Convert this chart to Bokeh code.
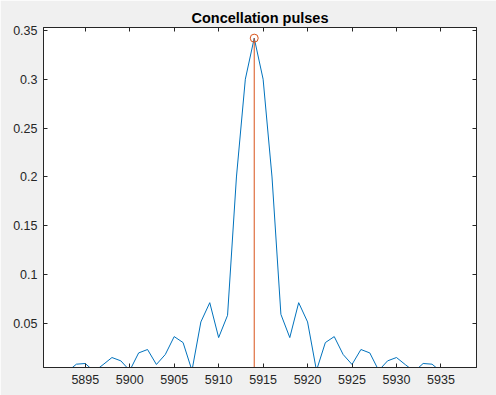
from bokeh.plotting import figure
from bokeh.models import Range1d, LinearAxis, FixedTicker, NumeralTickFormatter
from bokeh.embed import file_html
from bokeh.resources import INLINE

# Data
freq = [5890, 5891, 5892, 5893, 5894, 5895, 5896, 5897, 5898, 5899,
        5900, 5901, 5902, 5903, 5904, 5905, 5906, 5907, 5908, 5909,
        5910, 5911, 5912, 5913, 5914, 5915, 5916, 5917, 5918, 5919,
        5920, 5921, 5922, 5923, 5924, 5925, 5926, 5927, 5928, 5929,
        5930, 5931, 5932, 5933, 5934, 5935, 5936, 5937, 5938]
mag = [0.003, 0.004, 0.003, 0.001, 0.0085, 0.0092, 0.001, 0.008, 0.0153, 0.0119,
       0.002, 0.020, 0.0235, 0.0082, 0.0184, 0.0367, 0.0306, 0.002, 0.0517, 0.0714,
       0.0357, 0.0585, 0.200, 0.300, 0.342, 0.300, 0.200, 0.0595, 0.0357, 0.0714,
       0.0517, 0.002, 0.0306, 0.0367, 0.0184, 0.0082, 0.0235, 0.020, 0.002, 0.0119,
       0.0153, 0.008, 0.001, 0.0092, 0.0085, 0.001, 0.003, 0.004, 0.003]
peak_freq = [5914]
peak_mag = [0.342]

x_ticks = [5895, 5900, 5905, 5910, 5915, 5920, 5925, 5930, 5935]
y_ticks = [0.05, 0.1, 0.15, 0.2, 0.25, 0.3, 0.35]

BLUE = "#0072BD"
ORANGE = "#D95319"
DARK = "#262626"

p = figure(width=496, height=395, output_backend="svg", toolbar_location=None,
           x_range=Range1d(5890.3, 5939.0), y_range=Range1d(0.0051, 0.3529),
           title="Concellation pulses",
           min_border_left=43, min_border_right=20, min_border_top=27, min_border_bottom=28)

p.border_fill_color = "#F0F0F0"
p.background_fill_color = "white"
p.outline_line_color = DARK
p.outline_line_width = 1
p.xgrid.visible = False
p.ygrid.visible = False

p.title.text_font = "Liberation Sans"
p.title.text_font_size = "14.5px"
p.title.text_font_style = "bold"
p.title.text_color = "black"
p.title.align = "center"
p.title.standoff = 3

def style_axis(ax, ticks, fmt, show_labels=True):
    ax.ticker = FixedTicker(ticks=ticks)
    ax.formatter = NumeralTickFormatter(format=fmt)
    ax.axis_line_color = DARK
    ax.major_tick_line_color = DARK
    ax.major_tick_in = 4
    ax.major_tick_out = 0
    ax.minor_tick_line_color = None
    ax.major_label_text_font = "Liberation Sans"
    ax.major_label_text_font_size = "12.5px"
    ax.major_label_text_color = DARK
    if not show_labels:
        ax.major_label_overrides = {t: "" for t in ticks}
        ax.major_label_standoff = 0

style_axis(p.xaxis[0], x_ticks, "0")
p.xaxis[0].major_label_standoff = 7
style_axis(p.yaxis[0], y_ticks, "0.[00]")
p.yaxis[0].major_label_standoff = 6

top_ax = LinearAxis()
style_axis(top_ax, x_ticks, "0", show_labels=False)
p.add_layout(top_ax, "above")
right_ax = LinearAxis()
style_axis(right_ax, y_ticks, "0.[00]", show_labels=False)
p.add_layout(right_ax, "right")

p.line(freq, mag, line_color=BLUE, line_width=1)
p.segment(x0=peak_freq, y0=[0] * len(peak_freq), x1=peak_freq, y1=peak_mag,
          line_color=ORANGE, line_width=1)
p.scatter(peak_freq, peak_mag, marker="circle", size=8, fill_color=None,
          line_color=ORANGE, line_width=1)

open("out.html", "w").write(file_html(p, INLINE))
